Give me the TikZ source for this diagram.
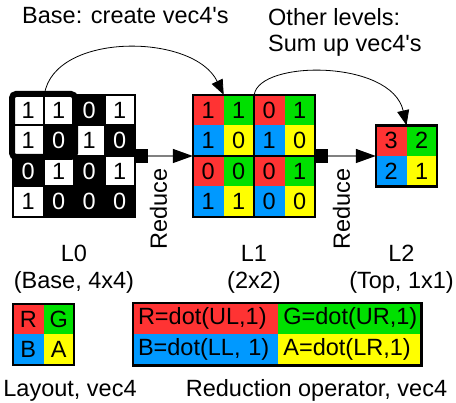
\documentclass[tikz,border=0pt]{standalone}
\usepackage{fontspec}
\setmainfont{Liberation Sans}
\usetikzlibrary{arrows.meta,positioning}
\definecolor{vred}{RGB}{255,51,51}
\definecolor{vgreen}{RGB}{0,224,0}
\definecolor{vblue}{RGB}{0,153,255}
\definecolor{vyellow}{RGB}{255,255,0}
\newcommand\diagfont{\fontsize{23.5pt}{26.7pt}\selectfont}

\begin{document}
\begin{tikzpicture}[
    x=1pt, y=-1pt,
    font=\diagfont,
    node distance=28pt,
    bitcell/.style={draw=black, line width=2pt, minimum size=30.5pt, inner sep=0pt},
    bit0/.style={fill=black, text=white},
    bit1/.style={fill=white, text=black},
    vcell/.style={minimum size=30.5pt, inner sep=0pt},
    q00/.style={fill=vred}, q01/.style={fill=vgreen},
    q10/.style={fill=vblue}, q11/.style={fill=vyellow},
    gridframe/.style={minimum size=#1, inner sep=0pt},
    blockframe/.style={draw=black, line width=2.5pt},
    hilite/.style={draw=black, line width=6pt, rounded corners=4pt},
    reduce/.style={{Square[length=13pt,width=14pt,color=black]}-{Triangle[length=20pt,width=14pt,color=black]}, draw=gray, line width=1.5pt},
    sumup/.style={-{Triangle[length=15pt,width=12pt]}, line width=0.8pt},
    opcell/.style={text width=#1, align=left, inner xsep=5pt, inner ysep=0pt, minimum height=31pt},
    lbl/.style={inner sep=0pt}
]
\useasboundingbox (0,0) rectangle (456,403);

% headings
\node[lbl, anchor=base west] (basetxt) at (22,24) {Base: create vec4\textquotesingle s};
\node[lbl, anchor=north west, align=left] (othertxt) at (268,8) {Other levels:\\Sum up vec4\textquotesingle s};

% level 0: bits
\node[gridframe=122pt] (L0) at (74,156) {};
\foreach \v [count=\k from 0] in {1,1,0,1, 1,0,1,0, 0,1,0,1, 1,0,0,0} {
  \pgfmathtruncatemacro\r{\k/4}
  \pgfmathtruncatemacro\c{mod(\k,4)}
  \node[bitcell, bit\v] (l0-\r-\c) at (28.25+30.5*\c, 110.25+30.5*\r) {\v};
}
\draw[hilite] (l0-0-0.north west) rectangle (l0-1-1.south east);

% level 1: vec4 cells
\node[gridframe=122pt] (L1) at (254,156) {};
\foreach \v [count=\k from 0] in {1,1,0,1, 1,0,1,0, 0,0,0,1, 1,1,0,0} {
  \pgfmathtruncatemacro\r{\k/4}
  \pgfmathtruncatemacro\c{mod(\k,4)}
  \pgfmathtruncatemacro\rr{mod(\r,2)}
  \pgfmathtruncatemacro\cc{mod(\c,2)}
  \node[vcell, q\rr\cc] (l1-\r-\c) at (208.25+30.5*\c, 110.25+30.5*\r) {\v};
}
\foreach \br/\bc/\er/\ec in {0/0/1/1, 0/2/1/3, 2/0/3/1, 2/2/3/3}
  \draw[blockframe] (l1-\br-\bc.north west) rectangle (l1-\er-\ec.south east);

% level 2: top
\node[gridframe=61pt] (L2) at (406.5,156) {};
\foreach \v/\r/\c in {3/0/0, 2/0/1, 2/1/0, 1/1/1}
  \node[vcell, q\r\c] (l2-\r-\c) at (391.25+30.5*\c, 140.75+30.5*\r) {\v};
\draw[blockframe] (l2-0-0.north west) rectangle (l2-1-1.south east);

% connectors
\draw[reduce] (L0) -- (L1);
\draw[reduce] (L1) -- (L2);
\node[lbl, rotate=90] (red1) at (158.5,209) {Reduce};
\node[lbl, rotate=90] (red2) at (341.5,209) {Reduce};
\draw[sumup] (l0-0-0.north east) .. controls +(10,-62) and +(-30,-62) .. (l1-0-0.north east);
\draw[sumup] (l1-0-1.north east) .. controls +(5,-35) and +(-15,-66) .. (L2.north);

% level labels
\node[lbl, align=center, below=of L0] (l0lbl) {L0\\(Base, 4x4)};
\node[lbl, align=center, below=of L1] (l1lbl) {L1\\(2x2)};
\node[lbl, align=center, anchor=north] (l2lbl) at (401.5,245) {L2\\(Top, 1x1)};

% legend
\foreach \t/\r/\c in {R/0/0, G/0/1, B/1/0, A/1/1}
  \node[vcell, q\r\c] (lay-\r-\c) at (28.25+30.5*\c, 319.25+30.5*\r) {\t};
\draw[blockframe] (lay-0-0.north west) rectangle (lay-1-1.south east);
\node[lbl, anchor=base] (laylbl) at (70,397) {Layout, vec4};

\node[opcell=135pt, q00] (op-r) at (205.5,318.5) {R=dot(UL,1)};
\node[opcell=133pt, q01, right=0pt of op-r] (op-g) {G=dot(UR,1)};
\node[opcell=135pt, q10, below=0pt of op-r] (op-b) {B=dot(LL, 1)};
\node[opcell=133pt, q11, below=0pt of op-g] (op-a) {A=dot(LR,1)};
\draw[blockframe] (op-r.north west) rectangle (op-a.south east);
\node[lbl, anchor=base] (oplbl) at (316.5,397) {Reduction operator, vec4};
\end{tikzpicture}
\end{document}
